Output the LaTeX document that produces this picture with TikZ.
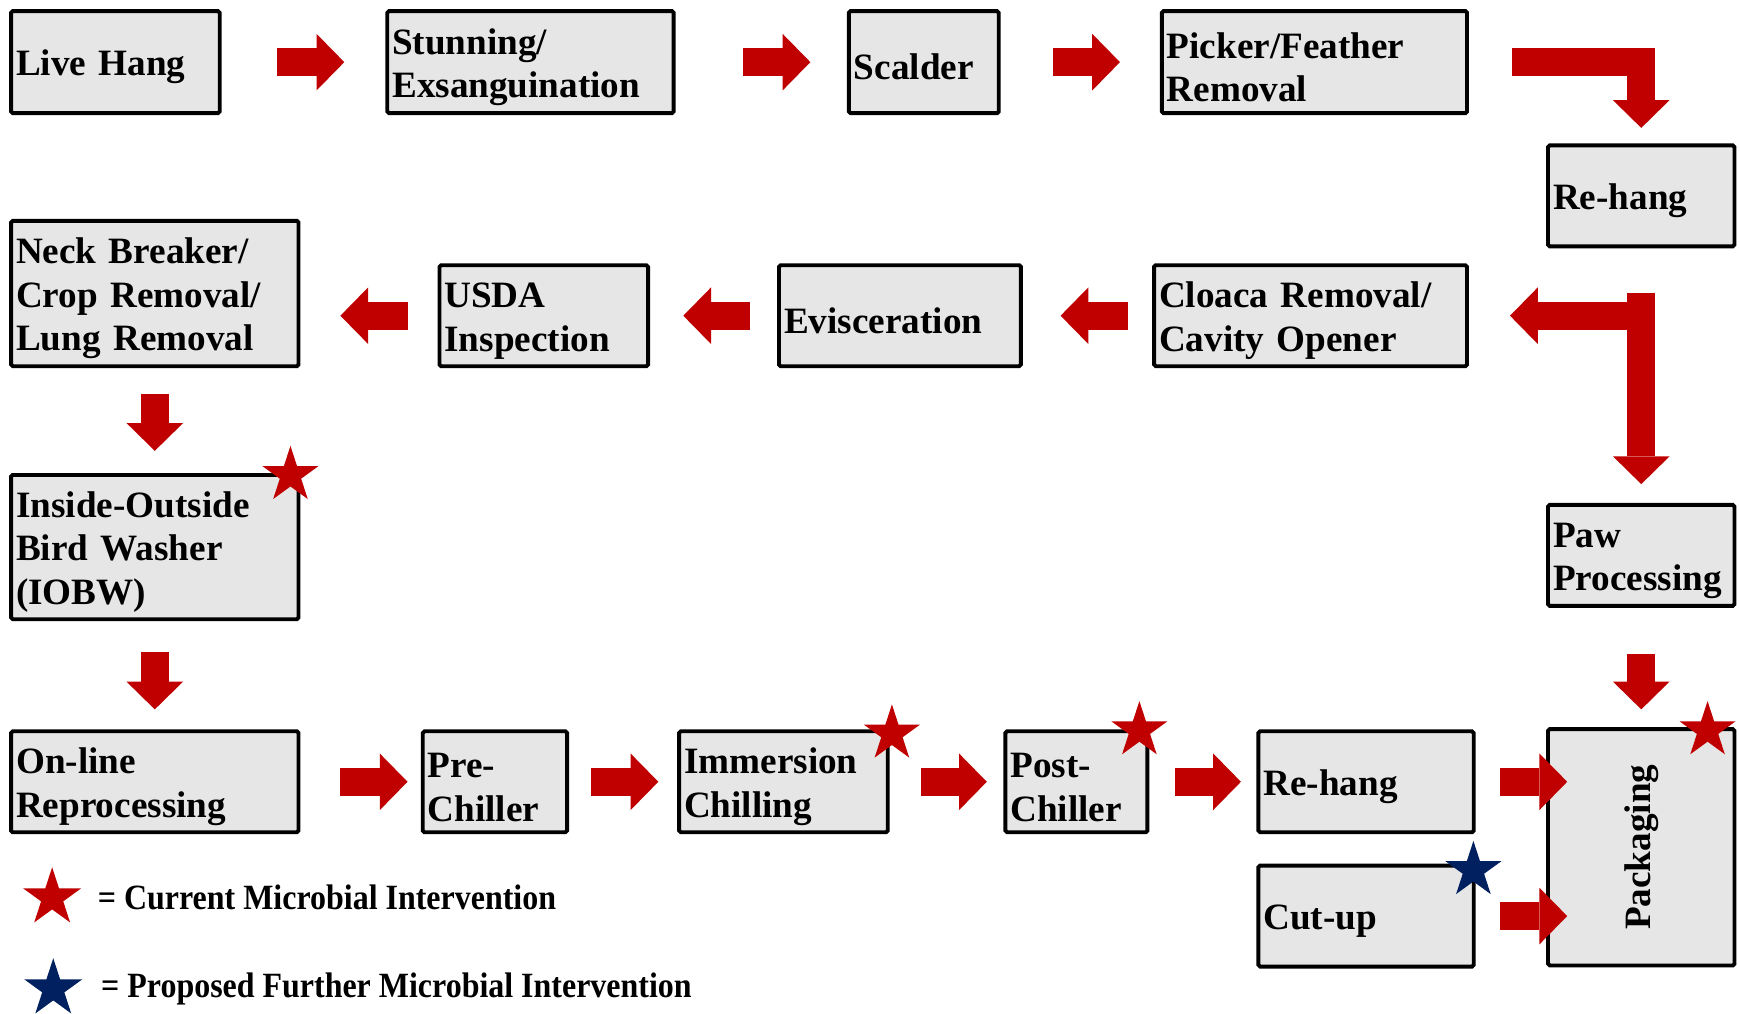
\documentclass[tikz,border=0pt]{standalone}
\usepackage{fontspec}
\setmainfont{Liberation Serif}
\usepackage{graphicx}
\usetikzlibrary{arrows.meta,shapes.geometric,calc}
\definecolor{arrred}{HTML}{C00000}
\definecolor{starblue}{HTML}{002060}
\definecolor{boxgray}{HTML}{E6E6E6}
\begin{document}
\begin{tikzpicture}[x=1pt,y=-1pt,
  procbox/.style={draw=black, line width=3.5pt, fill=boxgray, rounded corners=1.5pt,
    inner xsep=4.5pt, inner ysep=0pt, align=left, text height=32pt,
    font=\fontsize{33.5}{39}\selectfont\bfseries},
  barrow/.style={draw=arrred, line width=25pt,
    -{Triangle[length=25pt,width=51pt,line width=0pt]}},
  redstar/.style={star, star points=5, star point ratio=2.618, fill=arrred,
    minimum size=53pt, inner sep=0pt},
  bluestar/.style={redstar, fill=starblue},
  legtext/.style={anchor=west, inner sep=0pt, font=\fontsize{32}{36}\selectfont\bfseries}
]
\useasboundingbox (0,0) rectangle (1568,913);

% row 1
\node[procbox, text width=179pt, minimum height=92pt] (live) at (104,56) {Live Hang};
\node[procbox, text width=249pt, minimum height=92pt] (stun) at (478,56) {Stunning/\\Exsanguination};
\node[procbox, text width=126pt, minimum height=92pt] (scald) at (832.5,56) {Scalder};
\node[procbox, text width=266pt, minimum height=92pt] (pick) at (1184.5,56) {Picker/Feather\\Removal};
\node[procbox, text width=159pt, minimum height=91pt] (rehangA) at (1479,176.5) {Re-hang};

% row 2
\node[procbox, text width=273pt, minimum height=91pt] (cloaca) at (1181,284.5) {Cloaca Removal/\\Cavity Opener};
\node[procbox, text width=209pt, minimum height=91pt] (evis) at (811,284.5) {Evisceration};
\node[procbox, text width=179pt, minimum height=91pt] (usda) at (490,284.5) {USDA\\Inspection};
\node[procbox, text width=250pt, minimum height=131pt] (neck) at (139.5,264.5) {Neck Breaker/\\Crop Removal/\\Lung Removal};

% left column / right column
\node[procbox, text width=250pt, minimum height=130pt] (iobw) at (139.5,493) {Inside-Outside\\Bird Washer\\(IOBW)};
\node[procbox, text width=159pt, minimum height=91pt] (paw) at (1479,500.5) {Paw\\Processing};

% bottom row
\node[procbox, text width=250pt, minimum height=91pt] (online) at (139.5,704.5) {On-line\\Reprocessing};
\node[procbox, text width=121pt, minimum height=91pt] (pre) at (446,704.5) {Pre-\\Chiller};
\node[procbox, text width=179pt, minimum height=91pt] (imm) at (706,704.5) {Immersion\\Chilling};
\node[procbox, text width=119pt, minimum height=91pt] (post) at (970,704.5) {Post-\\Chiller};
\node[procbox, text width=185pt, minimum height=91pt] (rehangB) at (1231,704.5) {Re-hang};
\node[procbox, text width=185pt, minimum height=91pt] (cutup) at (1231,825.5) {Cut-up};
\node[procbox, text height=, minimum width=168pt, minimum height=213pt, inner sep=0pt] (pack) at (1479,763.5) {};
\node[rotate=90, inner sep=0pt, font=\fontsize{33.5}{39}\selectfont\bfseries] (packt) at (pack.center) {Packaging};

% arrows row 1
\draw[barrow, shorten <=50pt, shorten >=37pt] (live) -- (stun);
\draw[barrow, shorten <=61pt, shorten >=33pt] (stun) -- (scald);
\draw[barrow, shorten <=47pt, shorten >=36pt] (scald) -- (pick);
\draw[barrow, shorten <=39pt, shorten >=14pt] (pick) -| (rehangA);

% right L arrow
\coordinate (junc) at (rehangA |- cloaca);
\draw[barrow, shorten <=40pt, shorten >=17pt] (rehangA) -- (paw);
\draw[barrow, shorten >=37pt] (junc) -- (cloaca);

% arrows row 2
\draw[barrow, shorten <=22pt, shorten >=34pt] (cloaca) -- (evis);
\draw[barrow, shorten <=24pt, shorten >=30pt] (evis) -- (usda);
\draw[barrow, shorten <=27pt, shorten >=36pt] (usda) -- (neck.east |- usda);

% left column
\draw[barrow, shorten <=23pt, shorten >=20pt] (neck) -- (iobw);
\draw[barrow, shorten <=28pt, shorten >=18pt] (iobw) -- (online);

% bottom row
\draw[barrow, shorten <=36pt, shorten >=12pt] (online) -- (pre);
\draw[barrow, shorten <=20pt, shorten >=17pt] (pre) -- (imm);
\draw[barrow, shorten <=28pt, shorten >=15pt] (imm) -- (post);
\draw[barrow, shorten <=23pt, shorten >=14pt] (post) -- (rehangB);
\draw[barrow, shorten <=22pt, shorten >=-19pt] (rehangB.east) -- (rehangB.east -| pack.west);
\draw[barrow, shorten <=22pt, shorten >=-19pt] (cutup.east) -- (cutup.east -| pack.west);
\draw[barrow, shorten <=42pt, shorten >=16pt] (paw) -- (pack);

% stars
\node[redstar] (s1) at ([shift={(-9,2)}]iobw.north east) {};
\node[redstar] (s2) at ([shift={(2,4)}]imm.north east) {};
\node[redstar] (s3) at ([shift={(-9,1)}]post.north east) {};
\node[redstar] (s4) at ([shift={(-26,3)}]pack.north east) {};
\node[bluestar] (s5) at ([shift={(-2,6)}]cutup.north east) {};

% legend
\node[redstar, minimum size=55pt] (lgr) at (47,809) {};
\node[legtext] (lgrt) at (88,809) {\scalebox{0.9}[1]{= Current Microbial Intervention}};
\node[bluestar, minimum size=55pt] (lgb) at (48,891) {};
\node[legtext] (lgbt) at (91,891) {\scalebox{0.9}[1]{= Proposed Further Microbial Intervention}};
\end{tikzpicture}
\end{document}
